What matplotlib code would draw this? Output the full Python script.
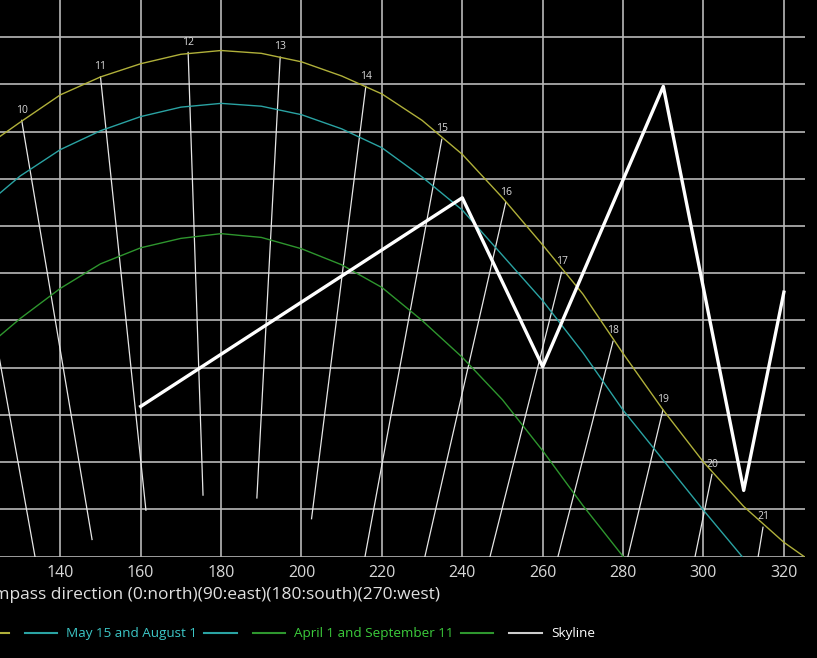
import matplotlib
matplotlib.use("Agg")
import matplotlib.pyplot as plt
from matplotlib.lines import Line2D

plt.rcParams['font.family'] = ['Open Sans', 'DejaVu Sans']

# sun paths, azimuth (deg) -> altitude (deg)
june_az = [125, 130, 140, 150, 160, 170, 180, 190, 200, 210, 220, 230, 240,
           250, 260, 270, 280, 290, 300, 310, 320, 325]
june_alt = [44.5, 46.0, 48.9, 50.8, 52.2, 53.2, 53.6, 53.3, 52.4, 50.9, 49.0,
            46.2, 42.6, 38.0, 33.0, 27.8, 21.5, 15.5, 10.0, 5.3, 1.5, 0.0]

may_az = [125, 130, 140, 150, 160, 170, 180, 190, 200, 210, 220, 230, 240,
          250, 260, 270, 280, 290, 300, 309.6]
may_alt = [38.5, 40.3, 43.1, 45.1, 46.6, 47.6, 48.0, 47.7, 46.8, 45.3, 43.3,
           40.2, 36.7, 31.9, 27.1, 21.6, 15.5, 10.2, 4.9, 0.0]

april_az = [125, 130, 140, 150, 160, 170, 180, 190, 200, 210, 220, 230, 240,
            250, 260, 270, 280]
april_alt = [23.4, 25.2, 28.4, 31.0, 32.7, 33.7, 34.2, 33.8, 32.6, 30.9, 28.5,
             25.0, 21.1, 16.6, 11.2, 5.4, 0.0]

skyline_az = [160, 240, 260, 290, 310, 320]
skyline_alt = [15.9, 38.0, 20.1, 49.8, 7.0, 28.0]

# hour lines (summer solstice point -> winter point)
hours = [9, 10, 11, 12, 13, 14, 15, 16, 17, 18, 19, 20, 21]
hour_top_az = [116.4, 130.4, 150.0, 171.8, 194.7, 216.0, 234.9, 250.8, 264.7,
               277.5, 289.9, 302.1, 314.8]
hour_top_alt = [41.0, 46.2, 50.8, 53.4, 52.9, 49.8, 44.2, 37.5, 30.1, 22.8,
                15.5, 8.7, 3.1]
hour_bot_az = [133.7, 147.9, 161.3, 175.5, 188.9, 202.5, 215.8, 230.7, 246.9,
               263.8, 281.2, 297.9, 313.6]
hour_bot_alt = [0.0, 1.8, 4.9, 6.5, 6.2, 4.0, 0.0, 0.0, 0.0, 0.0, 0.0, 0.0, 0.0]

x_ticks = [140, 160, 180, 200, 220, 240, 260, 280, 300, 320]

YELLOW = '#b0b03a'
CYAN = '#2aa3a3'
GREEN = '#2e962e'
GRID = '#b8b8b8'

fig = plt.figure(figsize=(8.17, 6.58), dpi=100, facecolor='black')
ax = fig.add_axes([0, 101.5 / 658, 805 / 817, 556.5 / 658])
ax.set_facecolor('black')

for i, h in enumerate(hours):
    ax.plot([hour_top_az[i], hour_bot_az[i]], [hour_top_alt[i], hour_bot_alt[i]],
            color='#e6e6e6', lw=0.9, zorder=3)
    ax.annotate(str(h), (hour_top_az[i], hour_top_alt[i]), xytext=(0, 3.5),
                textcoords='offset points', ha='center', va='bottom',
                color='#d8d8d8', fontsize=7.5, annotation_clip=False)

ax.plot(june_az, june_alt, color=YELLOW, lw=1.0, zorder=4)
ax.plot(may_az, may_alt, color=CYAN, lw=1.0, zorder=4)
ax.plot(april_az, april_alt, color=GREEN, lw=1.0, zorder=4)
ax.plot(skyline_az, skyline_alt, color='white', lw=2.4, zorder=5)

ax.set_xlim(125, 325.25)
ax.set_ylim(0, 58.95)
ax.set_xticks(x_ticks)
ax.set_yticks(range(0, 60, 5))
ax.grid(True, color=GRID, lw=1.2)
ax.set_axisbelow(True)
for s in ax.spines.values():
    s.set_visible(False)
ax.tick_params(axis='x', length=0, labelsize=11.5, labelcolor='#d8d8d8', pad=6)
ax.tick_params(axis='y', left=False, labelleft=False)

ax.set_xlabel('Compass direction (0:north)(90:east)(180:south)(270:west)',
              color='#e0e0e0', fontsize=12.5, ha='right')
ax.xaxis.set_label_coords(440 / 805, -0.054)

handles = [Line2D([], [], color=YELLOW), Line2D([], [], color=YELLOW),
           Line2D([], [], color=CYAN), Line2D([], [], color=CYAN),
           Line2D([], [], color=GREEN), Line2D([], [], color=GREEN),
           Line2D([], [], color='#cccccc')]
labels = ['June 21', '', 'May 15 and August 1', '', 'April 1 and September 11', '', 'Skyline']
leg = fig.legend(handles, labels, ncol=7, loc='center right',
                 bbox_to_anchor=(595 / 817, 24 / 658), frameon=False,
                 fontsize=9.7, handlelength=2.4, handletextpad=0.7,
                 columnspacing=0.5, borderaxespad=0, borderpad=0)
text_colors = [YELLOW, YELLOW, '#3cc6c6', CYAN, '#3ccc3c', GREEN, 'white']
for t, c in zip(leg.get_texts(), text_colors):
    t.set_color(c)

fig.savefig('out.png', dpi=100, facecolor='black')
